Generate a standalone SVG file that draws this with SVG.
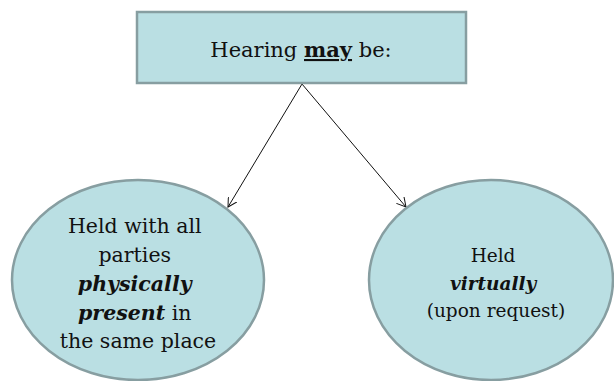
<svg xmlns="http://www.w3.org/2000/svg" width="614" height="381" viewBox="0 0 614 381">
<defs>
<style>
.shape{fill:#badfe3;stroke:#879ea1;stroke-width:2.5}
.t{font-family:"DejaVu Serif","Liberation Serif",serif;fill:#111;text-anchor:middle}
.bi{font-weight:bold;font-style:italic}
.conn{stroke:#111;stroke-width:1;fill:none;marker-end:url(#arr)}
</style>
<marker id="arr" viewBox="0 0 10 10" refX="9" refY="5" markerWidth="10" markerHeight="10" markerUnits="userSpaceOnUse" orient="auto">
<path d="M0,0 L9,5 L0,10" fill="none" stroke="#111" stroke-width="1"/>
</marker>
</defs>
<rect width="614" height="381" fill="#fff"/>
<g id="connectors">
<line class="conn" x1="302" y1="84" x2="228" y2="207"/>
<line class="conn" x1="302" y1="84" x2="406" y2="207"/>
</g>
<g id="top">
<rect class="shape" x="137" y="12" width="329" height="71"/>
<text class="t" x="301" y="57" font-size="21">Hearing <tspan font-weight="bold" text-decoration="underline">may</tspan> be:</text>
</g>
<g id="left">
<ellipse class="shape" cx="138" cy="280" rx="126" ry="100"/>
<text class="t" font-size="20.5">
<tspan x="138" y="233">Held with all</tspan>
<tspan x="138" y="262">parties</tspan>
<tspan x="138" y="291" class="bi">physically</tspan>
<tspan x="138" y="320"><tspan class="bi">present</tspan> in</tspan>
<tspan x="138" y="348">the same place</tspan>
</text>
</g>
<g id="right">
<ellipse class="shape" cx="491" cy="280" rx="122" ry="100"/>
<text class="t" font-size="18.5">
<tspan x="496" y="262">Held</tspan>
<tspan x="496" y="290" class="bi">virtually</tspan>
<tspan x="496" y="317">(upon request)</tspan>
</text>
</g>
</svg>
